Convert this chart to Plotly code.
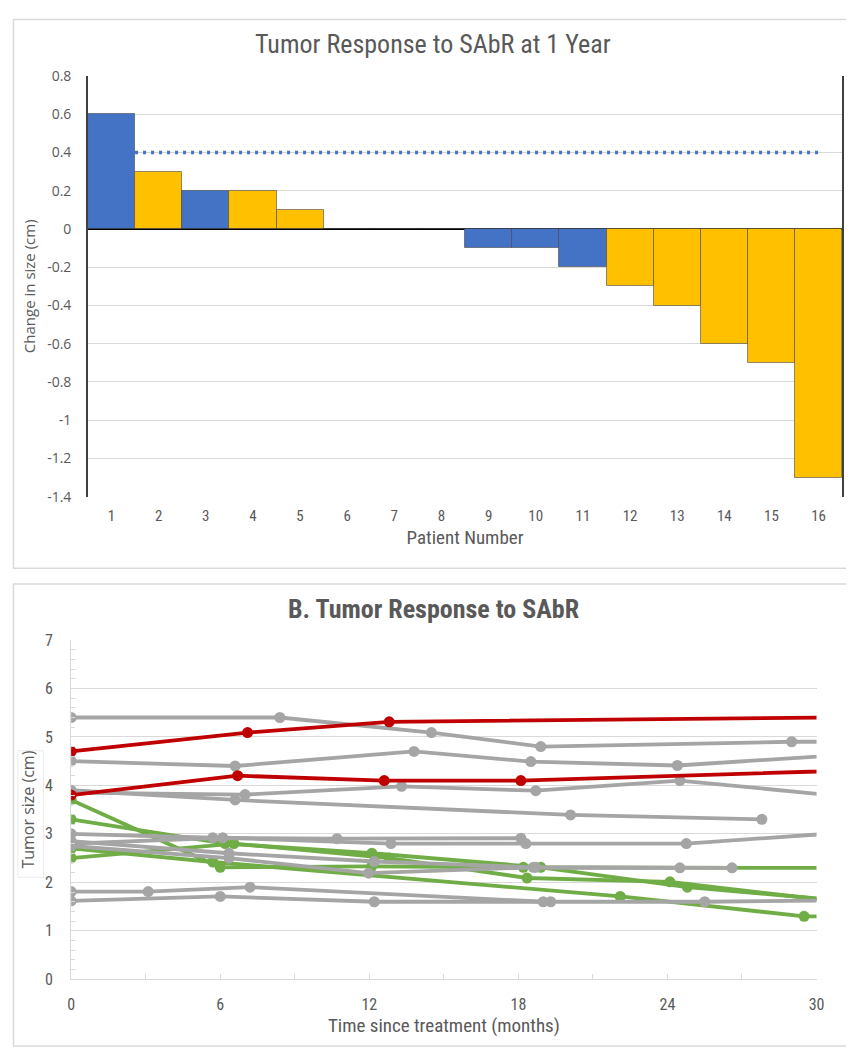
import plotly.graph_objects as go

# ---------------- Chart A data ----------------
patients = list(range(1, 17))
change_cm = [0.6, 0.3, 0.2, 0.2, 0.1, 0, 0, 0, -0.1, -0.1, -0.2, -0.3, -0.4, -0.6, -0.7, -1.3]
patient_group = ["blue", "gold", "blue", "gold", "gold", "gold", "gold", "gold",
                 "blue", "blue", "blue", "gold", "gold", "gold", "gold", "gold"]
threshold_x = [1.5, 16]
threshold_y = [0.4, 0.4]
a_yticks = [0.8, 0.6, 0.4, 0.2, 0, -0.2, -0.4, -0.6, -0.8, -1, -1.2, -1.4]

# ---------------- Chart B data ----------------
# each series: months, tumor size (cm)
green_series = [
    ([0, 6.0, 12.1, 18.2, 36], [3.7, 2.31, 2.33, 2.31, 2.29]),
    ([0, 6.2, 12.1, 18.9, 24.8, 36], [3.3, 2.8, 2.6, 2.31, 1.9, 1.4]),
    ([0, 6.55, 12.8, 18.35, 24.1, 36], [2.5, 2.8, 2.5, 2.09, 2.01, 1.3]),
    ([0, 5.7, 22.1, 29.5, 36], [2.7, 2.42, 1.71, 1.3, 1.27]),
]
gray_series = [
    ([0, 8.4, 14.5, 18.9, 29.0, 36], [5.4, 5.4, 5.09, 4.8, 4.9, 4.9]),
    ([0, 6.6, 13.8, 18.5, 24.4, 36], [4.5, 4.4, 4.7, 4.49, 4.41, 4.79]),
    ([0, 7.0, 13.3, 18.7, 24.5, 36], [3.85, 3.81, 3.98, 3.89, 4.1, 3.53]),
    ([0, 6.6, 20.1, 27.8], [3.9, 3.7, 3.39, 3.3]),
    ([0, 5.7, 10.7, 18.1], [3.0, 2.92, 2.9, 2.91]),
    ([0, 6.1, 12.87, 18.3, 24.76, 36], [2.8, 2.92, 2.8, 2.8, 2.8, 3.2]),
    ([0, 6.35, 12.2, 18.6, 24.5], [2.85, 2.6, 2.43, 2.31, 2.3]),
    ([0, 6.35, 11.97, 18.7, 26.6], [2.75, 2.5, 2.19, 2.31, 2.3]),
    ([0, 3.1, 7.2, 19.0], [1.81, 1.81, 1.9, 1.6]),
    ([0, 6.0, 12.2, 19.3, 25.5, 36], [1.62, 1.71, 1.6, 1.6, 1.6, 1.65]),
]
red_series = [
    ([0, 7.1, 12.8, 36], [4.7, 5.09, 5.31, 5.43]),
    ([0, 6.7, 12.6, 18.1, 36], [3.8, 4.2, 4.1, 4.1, 4.38]),
]
b_xticks = [0, 6, 12, 18, 24, 30]

W, H = 854, 1050
BLUE = "#4472C4"
GOLD = "#FFC000"
GREEN = "#70AD47"
GRAY = "#A5A5A5"
RED = "#C00000"
TXT = "#595959"
GRID = "#D9D9D9"
NARROW = "Liberation Sans Narrow, Roboto Condensed, Arial Narrow, sans-serif"
WIDE = "Open Sans, Segoe UI, sans-serif"

color_map = {"blue": BLUE, "gold": GOLD}

fig = go.Figure()

# Chart A bars
fig.add_trace(go.Bar(
    x=patients, y=change_cm,
    marker=dict(color=[color_map[g] for g in patient_group],
                line=dict(color="rgba(70,70,70,0.75)", width=0.8)),
    xaxis="x", yaxis="y", showlegend=False, hoverinfo="x+y",
))
fig.add_trace(go.Scatter(
    x=threshold_x, y=threshold_y, mode="lines",
    line=dict(color=BLUE, width=3.5, dash="3px,5px"),
    xaxis="x", yaxis="y", showlegend=False,
))

def add_series(series, color):
    for xs, ys in series:
        fig.add_trace(go.Scatter(
            x=xs, y=ys, mode="lines+markers",
            line=dict(color=color, width=3.8),
            marker=dict(color=color, size=11),
            xaxis="x2", yaxis="y2", showlegend=False, cliponaxis=True,
        ))

add_series(green_series, GREEN)
add_series(gray_series, GRAY)
add_series(red_series, RED)

def px_x(p):
    return p / W

def px_y(p):
    return 1 - p / H

fig.update_layout(
    width=W, height=H,
    margin=dict(l=0, r=0, t=0, b=0),
    paper_bgcolor="white", plot_bgcolor="white",
    bargap=0,
    xaxis=dict(
        domain=[px_x(77), px_x(842)], anchor="y",
        range=[0.5, 16.5], tickvals=patients, ticktext=[str(p) for p in patients],
        showgrid=False, zeroline=False, showline=False, ticks="",
        ticklabelstandoff=8,
        tickfont=dict(family=NARROW, size=15, color=TXT),
        title=dict(text="Patient Number", font=dict(family=NARROW, size=19, color=TXT), standoff=6),
    ),
    yaxis=dict(
        domain=[px_y(488), px_y(59)], anchor="x",
        range=[-1.4, 0.8], tickvals=a_yticks, ticktext=[f"{v:g}" for v in a_yticks],
        showgrid=True, gridcolor=GRID, gridwidth=1,
        zeroline=True, zerolinecolor="#000000", zerolinewidth=1.5,
        showline=True, linecolor="#404040", linewidth=1.5, mirror=True, ticks="",
        ticklabelstandoff=12,
        tickfont=dict(family=WIDE, size=14, color=TXT),
        title=dict(text="Change in size (cm)", font=dict(family=WIDE, size=15, color=TXT), standoff=8),
    ),
    xaxis2=dict(
        domain=[px_x(60), px_x(816)], anchor="y2",
        range=[0, 30], tickvals=b_xticks,
        showgrid=False, zeroline=False, showline=True, linecolor=GRID, linewidth=1.2,
        ticks="inside", ticklen=5, tickcolor=GRID,
        minor=dict(dtick=3, tick0=0, ticks="inside", ticklen=5, tickcolor=GRID, showgrid=False),
        ticklabelstandoff=10,
        tickfont=dict(family=NARROW, size=16, color=TXT),
        title=dict(text="Time since treatment (months)", font=dict(family=NARROW, size=19, color=TXT), standoff=6),
    ),
    yaxis2=dict(
        domain=[px_y(980), px_y(634)], anchor="x2",
        range=[0, 7], dtick=1,
        showgrid=True, gridcolor=GRID, gridwidth=1.2,
        zeroline=False, showline=True, linecolor=GRID, linewidth=1.2,
        ticks="",
        minor=dict(dtick=0.2, ticks="inside", ticklen=4, tickcolor=GRID, showgrid=False),
        ticklabelstandoff=14,
        tickfont=dict(family=NARROW, size=16, color=TXT),
        title=dict(text="Tumor size (cm)", font=dict(family=WIDE, size=16, color=TXT), standoff=6),
    ),
    annotations=[
        dict(text="Tumor Response to SAbR at 1 Year", xref="paper", yref="paper",
             x=0.5, y=px_y(27), xanchor="center", yanchor="middle", showarrow=False,
             font=dict(family=NARROW, size=26, color=TXT)),
        dict(text="<b>B. Tumor Response to SAbR</b>", xref="paper", yref="paper",
             x=0.5, y=px_y(602), xanchor="center", yanchor="middle", showarrow=False,
             font=dict(family=NARROW, size=26, color=TXT)),
    ],
    shapes=[
        dict(type="rect", xref="paper", yref="paper", x0=px_x(1.5), x1=px_x(852.5),
             y0=px_y(561), y1=px_y(1.5), line=dict(color=GRID, width=1.5), layer="below"),
        dict(type="rect", xref="paper", yref="paper", x0=px_x(1.5), x1=px_x(852.5),
             y0=px_y(1048), y1=px_y(577), line=dict(color=GRID, width=1.5), layer="below"),
        dict(type="rect", xref="paper", yref="paper", x0=px_x(6), x1=px_x(32),
             y0=px_y(876), y1=px_y(747), line=dict(color="#EBEBEB", width=1), layer="below"),
    ],
)

fig.write_html("out.html")
